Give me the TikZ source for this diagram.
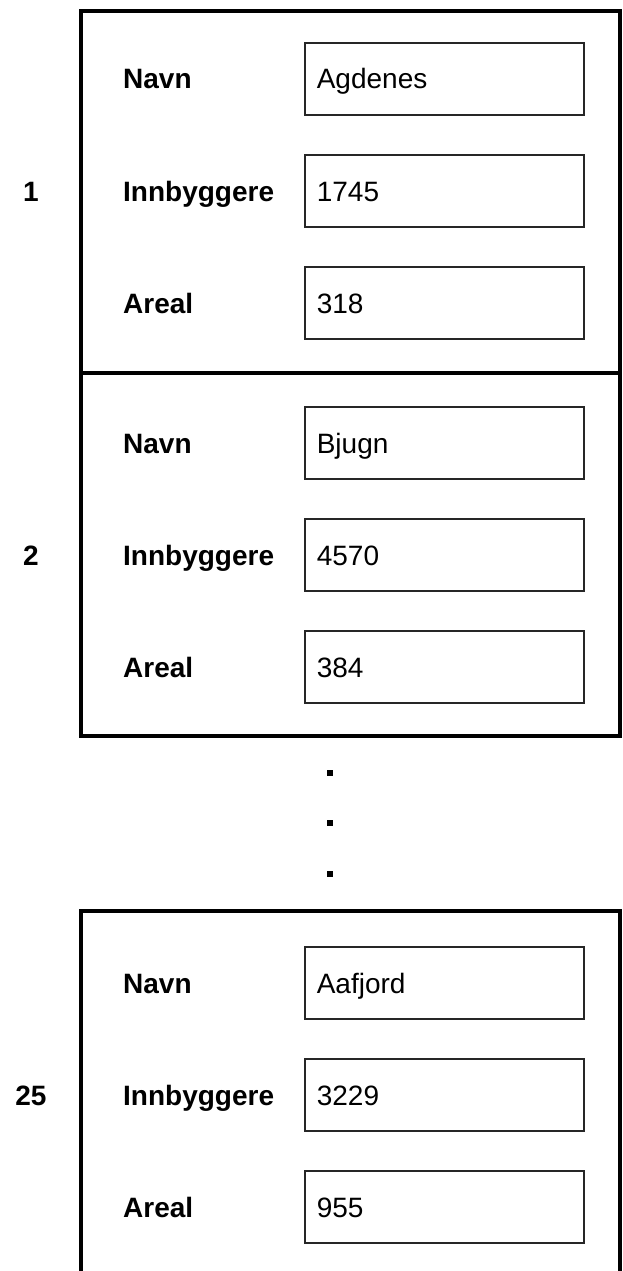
\documentclass[tikz,border=0pt]{standalone}
\usepackage{fontspec}
\setmainfont{Liberation Sans}
\begin{document}
\begin{tikzpicture}[x=1pt,y=-1pt,
  frame/.style={draw=black,line width=3.5pt},
  valuebox/.style={draw=black!85,line width=1.6pt,minimum width=279pt,minimum height=72pt,
    text width=255pt,inner xsep=12pt,inner ysep=0pt,align=left,anchor=west,
    text height=20pt,text depth=0pt,
    font=\fontsize{28}{32}\selectfont},
  fieldlabel/.style={anchor=base west,inner sep=0pt,font=\fontsize{28}{32}\selectfont\bfseries},
  recno/.style={anchor=base,inner sep=0pt,font=\fontsize{28}{32}\selectfont\bfseries},
  ellipsisdot/.style={fill=black,minimum size=6pt,inner sep=0pt}]
\useasboundingbox (0,0) rectangle (623,1271);

% record frames
\draw[frame] (81,11) rectangle (620,373);
\draw[frame] (81,373) rectangle (620,736);
\draw[frame] (81,911) rectangle (620,1300);

% records: number, field labels and value boxes
\foreach \r/\num/\nm/\inh/\ar/\ya in {a/1/Agdenes/1745/318/79, b/2/Bjugn/4570/384/443, c/25/Aafjord/3229/955/983} {
  \node[recno] (num-\r) at (31,\ya+112+10) {\num};
  \node[fieldlabel] (lnavn-\r) at (123,\ya+10) {Navn};
  \node[fieldlabel] (linn-\r) at (123,\ya+112+10) {Innbyggere};
  \node[fieldlabel] (lareal-\r) at (123,\ya+224+10) {Areal};
  \node[valuebox] (vnavn-\r) at (304,\ya) {\nm};
  \node[valuebox] (vinn-\r) at (304,\ya+112) {\inh};
  \node[valuebox] (vareal-\r) at (304,\ya+224) {\ar};
}

% vertical ellipsis between the records
\node[ellipsisdot] (dot1) at (330,773) {};
\node[ellipsisdot] (dot2) at (330,823) {};
\node[ellipsisdot] (dot3) at (330,874) {};
\end{tikzpicture}
\end{document}
